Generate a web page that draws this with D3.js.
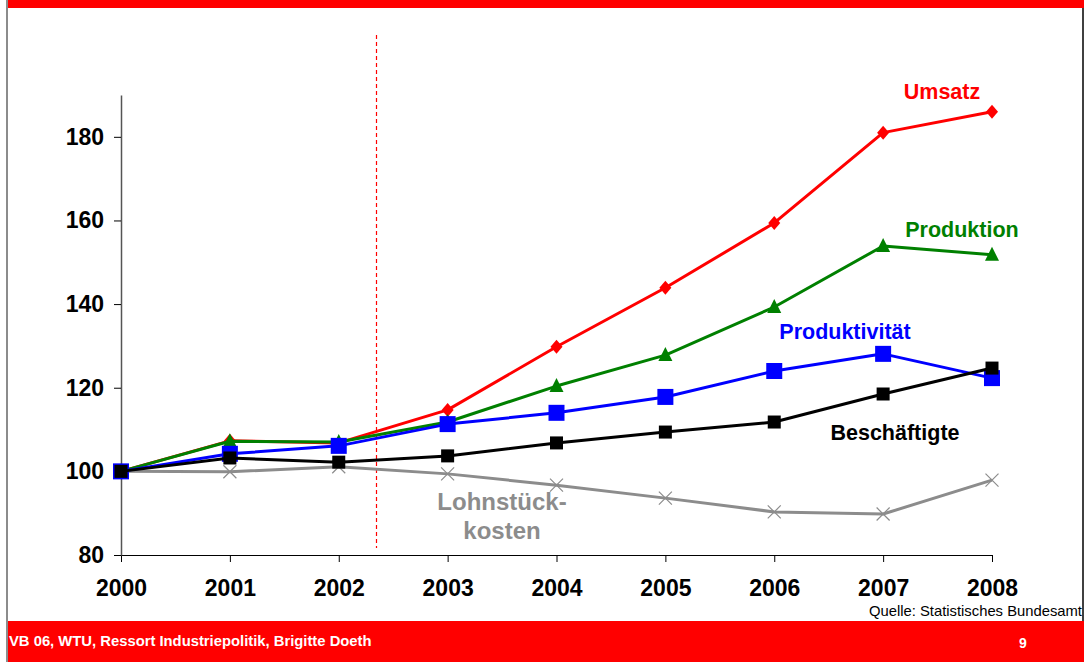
<!DOCTYPE html>
<html>
<head>
<meta charset="utf-8">
<script src="https://cdn.jsdelivr.net/npm/d3@7"></script>
<style>
  body { margin: 0; background: #fff; }
  svg { display: block; font-family: "Liberation Sans", Arial, sans-serif; }
</style>
</head>
<body>
<div id="chart"></div>
<script>
// data (index 2000 = 100)
const years = [2000, 2001, 2002, 2003, 2004, 2005, 2006, 2007, 2008];
const umsatz = [100, 107.3, 106.8, 114.7, 129.8, 143.9, 159.4, 181.0, 186.0];
const produktion = [100, 107.2, 107.0, 111.8, 120.4, 127.8, 139.3, 153.9, 151.8];
const produktivitaet = [100, 104.2, 106.1, 111.3, 114.0, 117.8, 124.0, 128.1, 122.3];
const beschaeftigte = [100, 103.2, 102.2, 103.7, 106.8, 109.4, 111.8, 118.5, 124.7];
const lohnstueckkosten = [100, 99.9, 101.1, 99.4, 96.7, 93.6, 90.3, 89.8, 97.9];
const yTicks = [80, 100, 120, 140, 160, 180];
const markerYear = 2002.34; // dashed red separator

const W = 1084, H = 662;
const svg = d3.select("#chart").append("svg")
    .attr("width", W)
    .attr("height", H);

// slide frame
svg.append("rect").attr("x", 8).attr("y", 0).attr("width", W - 8).attr("height", 8).attr("fill", "#ff0000");
svg.append("rect").attr("x", 8).attr("y", 621).attr("width", W - 8).attr("height", H - 621).attr("fill", "#ff0000");
svg.append("line").attr("x1", 7).attr("x2", 7).attr("y1", 0).attr("y2", H)
    .attr("stroke", "#666").attr("stroke-width", 1.5);
svg.append("line").attr("x1", 1083).attr("x2", 1083).attr("y1", 8).attr("y2", 621)
    .attr("stroke", "#000").attr("stroke-width", 1.5);

// scales
const x = d3.scaleLinear().domain([2000, 2008]).range([121, 992]);
const y = d3.scaleLinear().domain([80, 190]).range([555, 95]);

// axes
const xAxis = svg.append("g")
    .attr("transform", `translate(0,${y(80)})`)
    .call(d3.axisBottom(x).tickValues(years).tickFormat(d3.format("d")).tickSize(7).tickSizeOuter(0));
xAxis.select(".domain").attr("stroke", "#000").attr("stroke-width", 1.2);
xAxis.selectAll(".tick line").attr("stroke", "#000");
xAxis.selectAll(".tick text")
    .attr("y", 25)
    .attr("dy", "0.7em")
    .attr("font-size", 23).attr("font-weight", "bold").attr("fill", "#000")
    .attr("font-family", "Liberation Sans, Arial, sans-serif");

const yAxis = svg.append("g")
    .attr("transform", `translate(${x(2000)},0)`)
    .call(d3.axisLeft(y).tickValues(yTicks).tickSize(7).tickSizeOuter(0));
yAxis.select(".domain").attr("stroke", "#555").attr("stroke-width", 1.5);
yAxis.selectAll(".tick line").attr("stroke", "#000");
yAxis.selectAll(".tick text")
    .attr("x", -17)
    .attr("font-size", 23).attr("font-weight", "bold").attr("fill", "#000")
    .attr("font-family", "Liberation Sans, Arial, sans-serif");

// dashed separator
const sepX = Math.round(x(markerYear)) + 0.5;
svg.append("line")
    .attr("x1", sepX).attr("x2", sepX)
    .attr("y1", 35).attr("y2", 548)
    .attr("stroke", "#ff0000").attr("stroke-width", 1.2)
    .attr("stroke-dasharray", "4,3");

const line = d3.line()
    .x((d, i) => x(years[i]))
    .y(d => y(d));

const series = [
    { name: "Lohnstückkosten", values: lohnstueckkosten, color: "#8c8c8c", marker: "cross", size: 13 },
    { name: "Umsatz", values: umsatz, color: "#ff0000", marker: "diamond", size: 12 },
    { name: "Produktion", values: produktion, color: "#008000", marker: "triangle", size: 14 },
    { name: "Produktivität", values: produktivitaet, color: "#0000ff", marker: "square", size: 16 },
    { name: "Beschäftigte", values: beschaeftigte, color: "#000000", marker: "square", size: 13 }
];

series.forEach(s => {
    svg.append("path")
        .datum(s.values)
        .attr("fill", "none")
        .attr("stroke", s.color)
        .attr("stroke-width", 3)
        .attr("stroke-linejoin", "round")
        .attr("d", line);

    const g = svg.append("g");
    s.values.forEach((v, i) => {
        const cx = x(years[i]), cy = y(v), r = s.size / 2;
        if (s.marker === "square") {
            g.append("rect").attr("x", cx - r).attr("y", cy - r)
                .attr("width", s.size).attr("height", s.size).attr("fill", s.color);
        } else if (s.marker === "diamond") {
            g.append("path")
                .attr("d", `M${cx},${cy - r - 1}L${cx + r},${cy}L${cx},${cy + r + 1}L${cx - r},${cy}Z`)
                .attr("fill", s.color);
        } else if (s.marker === "triangle") {
            g.append("path")
                .attr("d", `M${cx},${cy - r - 1}L${cx + r},${cy + r - 1}L${cx - r},${cy + r - 1}Z`)
                .attr("fill", s.color);
        } else if (s.marker === "cross") {
            g.append("path")
                .attr("d", `M${cx - r},${cy - r}L${cx + r},${cy + r}M${cx - r},${cy + r}L${cx + r},${cy - r}`)
                .attr("stroke", s.color).attr("stroke-width", 1.2).attr("fill", "none");
        }
    });
});

// series labels
const labels = [
    { text: ["Umsatz"], x: 942, y: 99, color: "#ff0000", size: 21.5 },
    { text: ["Produktion"], x: 962, y: 237, color: "#008000", size: 21.5 },
    { text: ["Produktivität"], x: 845, y: 339, color: "#0000ff", size: 21.5 },
    { text: ["Beschäftigte"], x: 895, y: 440, color: "#000000", size: 21.5 },
    { text: ["Lohnstück-", "kosten"], x: 502, y: 510, color: "#8c8c8c", size: 24 }
];
labels.forEach(l => {
    const t = svg.append("text")
        .attr("text-anchor", "middle")
        .attr("font-size", l.size)
        .attr("font-weight", "bold")
        .attr("fill", l.color);
    l.text.forEach((line, i) => {
        t.append("tspan").attr("x", l.x).attr("y", l.y + i * 29).text(line);
    });
});

// source + footer
svg.append("text")
    .attr("x", 1082).attr("y", 616)
    .attr("text-anchor", "end")
    .attr("font-size", 14.8)
    .attr("fill", "#000")
    .text("Quelle: Statistisches Bundesamt");

svg.append("text")
    .attr("x", 9).attr("y", 646)
    .attr("font-size", 14.8)
    .attr("font-weight", "bold")
    .attr("fill", "#fff")
    .text("VB 06, WTU, Ressort Industriepolitik, Brigitte Doeth");

svg.append("text")
    .attr("x", 1023).attr("y", 648)
    .attr("text-anchor", "middle")
    .attr("font-size", 14)
    .attr("font-weight", "bold")
    .attr("fill", "#fff")
    .text("9");
</script>
</body>
</html>
